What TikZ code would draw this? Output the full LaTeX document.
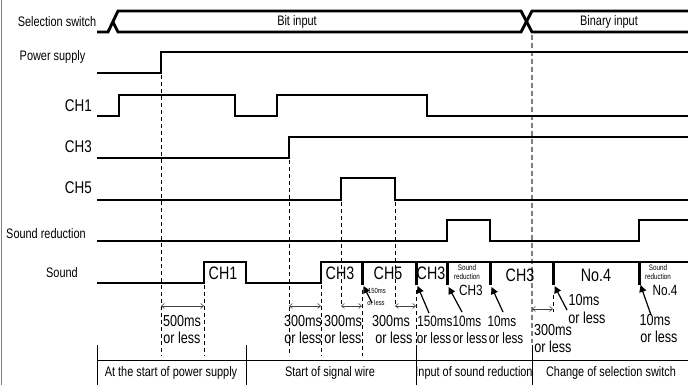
\documentclass[tikz,border=0pt]{standalone}
\usepackage{fontspec}
\setmainfont{Liberation Sans}
\usetikzlibrary{arrows.meta}
\newcommand\nx[1]{\scalebox{0.84}[1.06]{#1}}
\newcommand\ny[1]{\scalebox{0.78}[1.0]{#1}}
\begin{document}
\begin{tikzpicture}[x=1pt,y=-1pt,
  sig/.style={line width=2.9pt, line join=miter},
  bar/.style={line width=3pt},
  dsh/.style={dash pattern=on 4pt off 3pt, line width=0.7pt},
  gdsh/.style={gray, dash pattern=on 5pt off 3pt, line width=1.3pt},
  dim/.style={{Straight Barb[length=3pt,width=5pt]}-{Straight Barb[length=3pt,width=5pt]}, line width=0.6pt, black!75},
  lead/.style={-{Triangle[length=7pt,width=7pt]}, line width=1.2pt},
  tbl/.style={line width=0.8pt},
  lbl/.style={inner sep=0pt, font=\fontsize{13}{13}\selectfont},
  chl/.style={inner sep=0pt, font=\fontsize{16}{16}\selectfont, anchor=east},
  big/.style={inner sep=0pt, font=\fontsize{17}{17}\selectfont},
  ms/.style={inner sep=0pt, font=\fontsize{15}{15}\selectfont},
  mid/.style={inner sep=0pt, font=\fontsize{14}{14}\selectfont},
  tiny/.style={inner sep=0pt, align=center, font=\fontsize{7.5}{9}\selectfont},
  sm/.style={inner sep=0pt, font=\fontsize{7}{7}\selectfont}]
\useasboundingbox (0,0) rectangle (688,385);
\fill[white] (0,0) rectangle (688,385);
\draw[gray, line width=1.5pt] (1.5,0) -- (1.5,385);

% dashed guide lines
\draw[dsh] (161,75) -- (161,356);
\draw[dsh] (204,285) -- (204,356);
\draw[dsh] (289,160) -- (289,356);
\draw[dsh] (321,285) -- (321,356);
\draw[dsh] (341,202) -- (341,305);
\draw[dsh] (362,290) -- (362,356);
\draw[dsh] (395,202) -- (395,305);
\draw[dsh] (416,290) -- (416,346);
\draw[dsh] (553,295) -- (553,312);
\draw[gdsh] (532,35) -- (532,343);

% row labels
\node[lbl] (lsel) at (57,22) {\nx{Selection switch}};
\node[lbl] (lpow) at (52.5,57) {\nx{Power supply}};
\node[chl] (lch1) at (92,106) {\nx{CH1}};
\node[chl] (lch3) at (92,147) {\nx{CH3}};
\node[chl] (lch5) at (92,188) {\nx{CH5}};
\node[lbl] (lsr) at (46,234) {\nx{Sound reduction}};
\node[lbl] (lsnd) at (62,273) {\nx{Sound}};

% selection switch
\draw[sig] (97,32) -- (108,32) -- (118,11) -- (521,11) -- (532,32) -- (688,32);
\draw[sig] (113,22) -- (118,32) -- (521,32) -- (532,11) -- (688,11);
\node[lbl] (bit) at (297,22) {\nx{Bit input}};
\node[lbl] (bin) at (609,22) {\nx{Binary input}};

% power supply
\draw[sig] (97,73) -- (161,73) -- (161,52) -- (688,52);
% CH1
\draw[sig] (97,116) -- (119,116) -- (119,95) -- (235,95) -- (235,116) -- (277,116) -- (277,95) -- (427,95) -- (427,116) -- (688,116);
% CH3
\draw[sig] (97,158) -- (289,158) -- (289,137) -- (688,137);
% CH5
\draw[sig] (97,200) -- (341,200) -- (341,178) -- (395,178) -- (395,200) -- (688,200);
% Sound reduction
\draw[sig] (97,241) -- (447,241) -- (447,220) -- (490,220) -- (490,241) -- (639,241) -- (639,220) -- (688,220);
% Sound
\draw[sig] (97,283) -- (204,283) -- (204,262) -- (246,262) -- (246,283) -- (321,283) -- (321,262) -- (688,262);
\foreach \b in {362,416,447,490,553,639} \draw[bar] (\b,262) -- (\b,285);

% sound labels
\node[big] (s1) at (223,273) {\nx{CH1}};
\node[big] (s2) at (340,273) {\nx{CH3}};
\node[big] (s3) at (388,273) {\nx{CH5}};
\node[big] (s4) at (431,273) {\nx{CH3}};
\node[tiny] (s5a) at (467,272) {\nx{Sound}\\\nx{reduction}};
\node[mid] (s5c) at (471,290) {\nx{CH3}};
\node[big] (s6) at (520,275) {\nx{CH3}};
\node[big] (s7) at (596,275) {\nx{No.4}};
\node[tiny] (s8a) at (658,272) {\nx{Sound}\\\nx{reduction}};
\node[mid] (s8c) at (665,290) {\nx{No.4}};

% leaders
\coordinate (t1) at (363.5,286); \coordinate (e1) at (372,303);
\coordinate (t2) at (417.5,286); \coordinate (e2) at (429,313);
\coordinate (t3) at (448.5,287); \coordinate (e3) at (462,312);
\coordinate (t4) at (491.5,287); \coordinate (e4) at (503,312);
\coordinate (t5) at (554.5,286); \coordinate (e5) at (567,310);
\coordinate (t6) at (640.5,285); \coordinate (e6) at (651,315);
\foreach \i in {1,...,6} \draw[lead] (e\i) -- (t\i);

% dimension arrows
\coordinate (d1a) at (161,306); \coordinate (d1b) at (204,306);
\coordinate (d2a) at (289,306); \coordinate (d2b) at (321,306);
\coordinate (d3a) at (341,306); \coordinate (d3b) at (362,306);
\coordinate (d4a) at (395,306); \coordinate (d4b) at (416,306);
\coordinate (d5a) at (532,309); \coordinate (d5b) at (553,309);
\foreach \i in {1,...,5} \draw[dim] (d\i a) -- (d\i b);

% time labels
\node[ms] (m1a) at (182,321) {\nx{500ms}};
\node[ms] (m1b) at (182,338) {\nx{or less}};
\node[ms] (m2a) at (303,321) {\nx{300ms}};
\node[ms] (m2b) at (303,338) {\nx{or less}};
\node[ms] (m3a) at (343,321) {\nx{300ms}};
\node[ms] (m3b) at (343,338) {\nx{or less}};
\node[sm] (m4a) at (377,291) {\nx{150ms}};
\node[sm] (m4b) at (376,303) {\nx{or less}};
\node[ms] (m5a) at (391,321) {\nx{300ms}};
\node[ms] (m5b) at (394,338) {\nx{or less}};
\node[ms] (m6a) at (435,321) {\ny{150ms}};
\node[ms] (m6b) at (434,338) {\ny{or less}};
\node[ms] (m7a) at (467,321) {\ny{10ms}};
\node[ms] (m7b) at (470,338) {\ny{or less}};
\node[ms] (m8a) at (502,321) {\ny{10ms}};
\node[ms] (m8b) at (506,338) {\ny{or less}};
\node[ms] (m9a) at (553,330) {\nx{300ms}};
\node[ms] (m9b) at (553,347) {\nx{or less}};
\node[ms] (m10a) at (584,300) {\nx{10ms}};
\node[ms] (m10b) at (587,318) {\nx{or less}};
\node[ms] (m11a) at (655,320) {\nx{10ms}};
\node[ms] (m11b) at (659,337) {\nx{or less}};

% table
\draw[tbl] (97,360) -- (688,360);
\foreach \v in {97,246,416,532} \draw[tbl] (\v,345) -- (\v,385);
\node[lbl] (c1) at (171,373) {\nx{At the start of power supply}};
\node[lbl] (c2) at (330,373) {\nx{Start of signal wire}};
\node[lbl] (c3) at (474,373) {\nx{Input of sound reduction}};
\node[lbl] (c4) at (611,373) {\nx{Change of selection switch}};
\end{tikzpicture}
\end{document}
